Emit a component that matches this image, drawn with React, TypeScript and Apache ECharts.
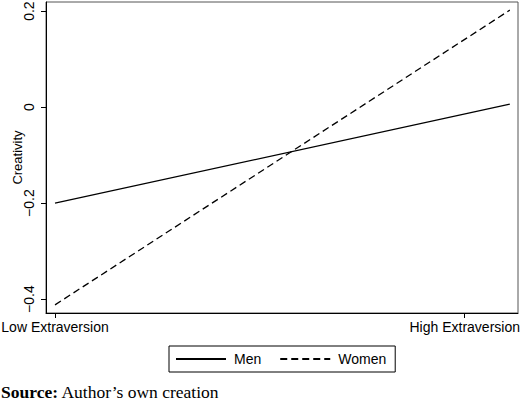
import { useEffect, useRef } from 'react'
import * as echarts from 'echarts'

// x: 0 = low extraversion, 1 = high extraversion; lines run to the sample max
const xValues = [0, 1.11]
const menValues = [-0.2, 0.006]
const womenValues = [-0.412, 0.202]

const xTickValues = [0, 1]
const xTickLabels = ['Low Extraversion', 'High Extraversion']
const yTickValues = [-0.4, -0.2, 0, 0.2]

const FONT = 'Liberation Sans, Arial, sans-serif'
const SERIF = 'Liberation Serif, Times New Roman, serif'

export default function App() {
  const chartRef = useRef<HTMLDivElement>(null)

  useEffect(() => {
    if (!chartRef.current) return
    const chart = echarts.init(chartRef.current, null, { renderer: 'svg' })

    const option: echarts.EChartsOption = {
      animation: false,
      backgroundColor: '#fff',
      grid: {
        left: 46,
        right: 2,
        top: 2,
        bottom: 89,
        outerBoundsMode: 'none',
        show: true,
        borderColor: '#555',
        borderWidth: 1
      } as any,
      xAxis: {
        type: 'value',
        min: -0.022,
        max: 1.13,
        splitLine: { show: false },
        axisLine: { show: true, onZero: false, lineStyle: { color: '#000', width: 1 } },
        axisTick: { show: true, length: 5, customValues: xTickValues, lineStyle: { color: '#000' } },
        axisLabel: {
          customValues: xTickValues,
          margin: 7,
          color: '#000',
          fontSize: 14,
          fontFamily: FONT,
          formatter: (v: number) => xTickLabels[xTickValues.indexOf(v)] ?? ''
        }
      },
      yAxis: {
        type: 'value',
        min: -0.429,
        max: 0.219,
        name: 'Creativity',
        nameLocation: 'middle',
        nameGap: 22,
        nameMoveOverlap: false,
        nameRotate: 90,
        nameTextStyle: { color: '#000', fontSize: 13, fontFamily: FONT },
        splitLine: { show: false },
        axisLine: { show: true, onZero: false, lineStyle: { color: '#000', width: 1 } },
        axisTick: { show: true, length: 5, customValues: yTickValues, lineStyle: { color: '#000' } },
        axisLabel: {
          customValues: yTickValues,
          rotate: 90,
          margin: 10,
          color: '#000',
          fontSize: 14,
          fontFamily: FONT,
          formatter: (v: number) => (v === 0 ? '0' : String(v).replace('-', '\u2212'))
        }
      } as any,
      legend: {
        left: 169,
        top: 346,
        orient: 'horizontal',
        itemWidth: 50,
        itemHeight: 14,
        itemGap: 18,
        padding: [6, 9, 6, 6],
        borderColor: '#000',
        borderWidth: 1,
        borderRadius: 0,
        itemStyle: { color: 'transparent', borderWidth: 0 },
        textStyle: { color: '#000', fontSize: 14, fontFamily: FONT, padding: [0, 0, 0, 3] },
        data: ['Men', 'Women']
      },
      graphic: [
        {
          type: 'text',
          left: 1,
          top: 383,
          style: {
            text: '{b|Source:} Author\u2019s own creation',
            font: `17.5px ${SERIF}`,
            fill: '#000',
            rich: {
              b: { fontWeight: 'bold', fontSize: 17.5, fontFamily: SERIF, fill: '#000' }
            }
          }
        }
      ],
      series: [
        {
          name: 'Men',
          type: 'line',
          symbol: 'none',
          color: '#000',
          lineStyle: { color: '#000', width: 1.3, type: 'solid' },
          data: xValues.map((x, i) => [x, menValues[i]])
        },
        {
          name: 'Women',
          type: 'line',
          symbol: 'none',
          color: '#000',
          lineStyle: { color: '#000', width: 1.3, type: [7, 4] },
          data: xValues.map((x, i) => [x, womenValues[i]])
        }
      ]
    }

    chart.setOption(option)
    return () => chart.dispose()
  }, [])

  return (
    <div
      ref={chartRef}
      style={{ position: 'fixed', left: 0, top: 0, width: 520, height: 402 }}
    />
  )
}
